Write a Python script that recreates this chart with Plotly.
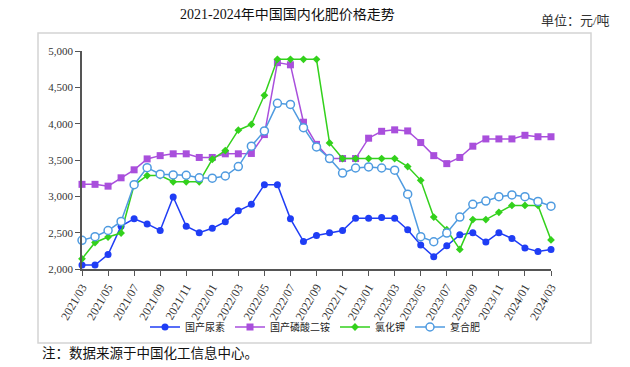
import plotly.graph_objects as go

months = ["2021/03", "2021/04", "2021/05", "2021/06", "2021/07", "2021/08", "2021/09", "2021/10",
          "2021/11", "2021/12", "2022/01", "2022/02", "2022/03", "2022/04", "2022/05", "2022/06",
          "2022/07", "2022/08", "2022/09", "2022/10", "2022/11", "2022/12", "2023/01", "2023/02",
          "2023/03", "2023/04", "2023/05", "2023/06", "2023/07", "2023/08", "2023/09", "2023/10",
          "2023/11", "2023/12", "2024/01", "2024/02", "2024/03"]

urea = [2055, 2055, 2200, 2590, 2690, 2620, 2530, 2990, 2590, 2500, 2560, 2650, 2800, 2890,
        3160, 3160, 2690, 2380, 2460, 2500, 2530, 2700, 2700, 2710, 2700, 2540, 2330, 2170,
        2320, 2470, 2500, 2370, 2500, 2420, 2290, 2240, 2270]
dap = [3165, 3165, 3140, 3255, 3365, 3515, 3560, 3585, 3585, 3535, 3535, 3585, 3585, 3590,
       3850, 4840, 4810, 4020, 3715, 3520, 3520, 3520, 3800, 3895, 3915, 3900, 3740, 3560,
       3450, 3535, 3690, 3790, 3790, 3790, 3840, 3820, 3820]
potash = [2140, 2365, 2440, 2495, 3155, 3285, 3285, 3200, 3200, 3200, 3510, 3630, 3910, 3990,
          4390, 4885, 4885, 4885, 4885, 3735, 3520, 3520, 3520, 3520, 3520, 3410, 3220, 2715,
          2540, 2270, 2680, 2680, 2780, 2875, 2875, 2875, 2400]
compound = [2395, 2445, 2530, 2655, 3160, 3395, 3305, 3295, 3290, 3255, 3250, 3280, 3410, 3690,
            3900, 4280, 4265, 3945, 3680, 3520, 3320, 3390, 3405, 3390, 3360, 3030, 2445, 2375,
            2495, 2715, 2890, 2935, 2995, 3020, 2995, 2930, 2865]

tick_labels = months[::2]
yticks = [2000, 2500, 3000, 3500, 4000, 4500, 5000]

series_names = ["国产尿素", "国产磷酸二铵", "氯化钾", "复合肥"]

SERIF = "Times New Roman, Liberation Serif, Noto Sans CJK SC, serif"
SANS = "Microsoft YaHei, Noto Sans CJK SC, sans-serif"

fig = go.Figure()
fig.add_trace(go.Scatter(x=months, y=urea, name=series_names[0], mode="lines+markers",
                         line=dict(color="#1f3df5", width=1.5),
                         marker=dict(symbol="circle", size=7, color="#1f3df5"),
                         cliponaxis=False))
fig.add_trace(go.Scatter(x=months, y=dap, name=series_names[1], mode="lines+markers",
                         line=dict(color="#a94fdc", width=1.5),
                         marker=dict(symbol="square", size=7, color="#a94fdc"),
                         cliponaxis=False))
fig.add_trace(go.Scatter(x=months, y=potash, name=series_names[2], mode="lines+markers",
                         line=dict(color="#33d11c", width=1.5),
                         marker=dict(symbol="diamond", size=6, color="#33d11c"),
                         cliponaxis=False))
fig.add_trace(go.Scatter(x=months, y=compound, name=series_names[3], mode="lines+markers",
                         line=dict(color="#4f9be0", width=1.5),
                         marker=dict(symbol="circle", size=8, color="white",
                                     line=dict(color="#4f9be0", width=1.5)),
                         cliponaxis=False))

# The page body has an 8px margin; the figure is placed at (8, 8) in the window.
OX, OY = 8, 8
W, H = 630 - OX, 367 - OY
# plot area in window pixels: x 82..551, y 51..269
PL, PR, PT, PB = 82, 551, 51, 269
L = PL - OX
T = PT - OY
R = W - (PR - OX)
B = H - (PB - OY)
PW = PR - PL
PH = PB - PT

def px(x):
    return (x - PL) / PW

def py(y):
    return (PB - y) / PH

fig.update_layout(
    width=W, height=H,
    margin=dict(l=L, r=R, t=T, b=B, autoexpand=False),
    paper_bgcolor="white", plot_bgcolor="white",
    showlegend=True,
    legend=dict(orientation="h", x=px(315), xanchor="center", y=py(327), yanchor="middle",
                font=dict(family=SANS, size=10, color="#222222"),
                itemwidth=30, tracegroupgap=0, bgcolor="rgba(0,0,0,0)"),
    xaxis=dict(type="category", range=[0, len(months) - 1],
               tickmode="array", tickvals=tick_labels, ticktext=tick_labels,
               tickangle=-60, ticks="outside", ticklen=5, tickcolor="#555555",
               showline=True, linecolor="#555555", linewidth=1.5,
               showgrid=False, zeroline=False,
               tickfont=dict(family=SERIF, size=12, color="#333333")),
    yaxis=dict(range=[2000, 5000], tickvals=yticks, tickformat=",",
               ticks="outside", ticklen=5, tickcolor="#555555",
               showline=True, linecolor="#555555", linewidth=1.5,
               showgrid=False, zeroline=False,
               tickfont=dict(family=SERIF, size=11, color="#333333")),
    shapes=[dict(type="rect", xref="paper", yref="paper",
                 x0=px(38), x1=px(591), y0=py(343), y1=py(33),
                 line=dict(color="#d4d4d4", width=1.5), fillcolor="rgba(0,0,0,0)",
                 layer="below")],
    annotations=[
        dict(text="2021-2024年中国国内化肥价格走势", xref="paper", yref="paper",
             x=px(287), y=py(14), xanchor="center", yanchor="middle", showarrow=False,
             font=dict(family=SERIF, size=14, color="#111111")),
        dict(text="单位：元/吨", xref="paper", yref="paper",
             x=px(612), y=py(20), xanchor="right", yanchor="middle", showarrow=False,
             font=dict(family=SERIF, size=13, color="#333333")),
        dict(text="注：数据来源于中国化工信息中心。", xref="paper", yref="paper",
             x=px(40), y=py(353), xanchor="left", yanchor="middle", showarrow=False,
             font=dict(family=SERIF, size=13.5, color="#111111")),
    ],
)

fig.write_html("out.html")
